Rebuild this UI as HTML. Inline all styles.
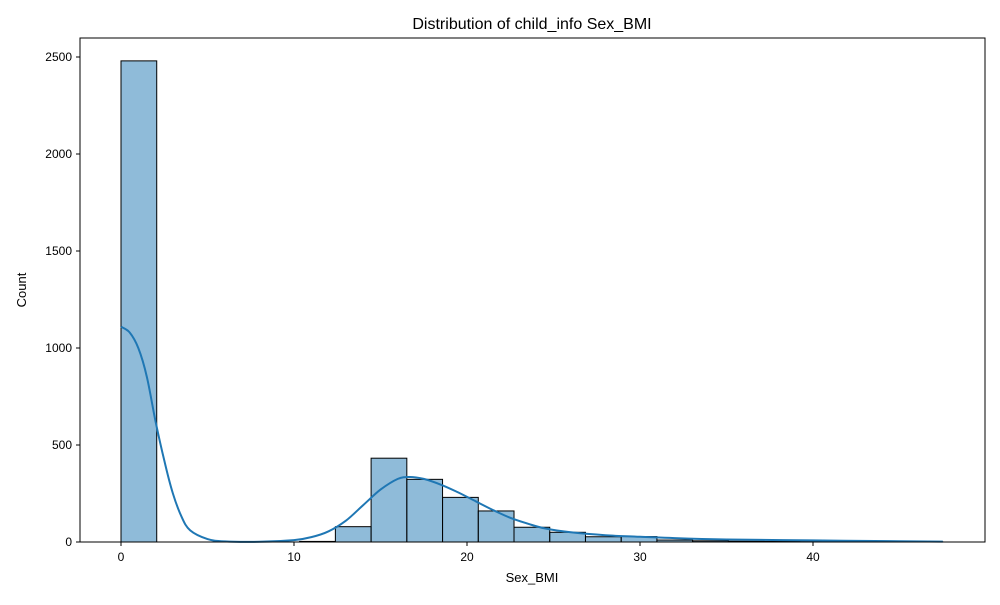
<!DOCTYPE html>
<html><head><meta charset="utf-8"><style>body{margin:0;background:#fff}svg{font-family:"Liberation Sans",sans-serif}</style></head>
<body>
<svg id="chart" width="1000" height="600">
<rect width="1000" height="600" fill="#fff"/>
<text x="532" y="29" font-size="16" text-anchor="middle">Distribution of child_info Sex_BMI</text>
<g id="bars"></g><g id="ticks"></g>
<path id="kde" fill="none" stroke="#1f77b4" stroke-width="2"/>
<rect x="80" y="38" width="905" height="504" fill="none" stroke="#000" stroke-width="1"/>
<text x="532" y="582" font-size="13" text-anchor="middle">Sex_BMI</text>
<text transform="translate(26,290) rotate(-90)" font-size="13" text-anchor="middle">Count</text>
</svg>
<script>
const binCounts=[2480,0,0,0,0,3,79,432,323,230,160,76,50,27,28,10,6,4,3,2,2,1,1];
const binStart=0, binEnd=47.5;
const xTicks=[0,10,20,30,40];
const yTicks=[0,500,1000,1500,2000,2500];
const kdeX=[0,0.5,1,1.5,2,2.5,3,3.5,4,5,6,8,10,11,12,13,14,15,16,16.7,17.5,18.5,19.5,20.5,21.5,22.5,23.5,24.5,26,28,30,32,35,40,45,47.5];
const kdeY=[1110,1080,1000,850,620,420,250,130,60,15,3,1,10,25,55,110,190,270,325,335,325,295,255,210,165,125,95,70,50,35,27,20,13,8,4,2];
const NS="http://www.w3.org/2000/svg";
const sx=v=>121+v*17.3, sy=v=>542-v*0.194;
const bw=(binEnd-binStart)/binCounts.length;
const bars=document.getElementById('bars'), ticks=document.getElementById('ticks');
binCounts.forEach((c,i)=>{
  if(c<=0) return;
  const r=document.createElementNS(NS,'rect');
  const x0=sx(binStart+i*bw), x1=sx(binStart+(i+1)*bw);
  r.setAttribute('x',x0);r.setAttribute('width',x1-x0);
  r.setAttribute('y',sy(c));r.setAttribute('height',sy(0)-sy(c));
  r.setAttribute('fill','rgba(31,119,180,0.5)');r.setAttribute('stroke','#000');r.setAttribute('stroke-width','1');
  
  
  bars.appendChild(r);
});
xTicks.forEach(t=>{
  const l=document.createElementNS(NS,'line');
  l.setAttribute('x1',sx(t));l.setAttribute('x2',sx(t));l.setAttribute('y1',542);l.setAttribute('y2',546);l.setAttribute('stroke','#000');
  
  
  ticks.appendChild(l);
  const tx=document.createElementNS(NS,'text');
  tx.setAttribute('x',sx(t));tx.setAttribute('y',561);tx.setAttribute('font-size','12');tx.setAttribute('text-anchor','middle');
  tx.textContent=t;
  
  
  ticks.appendChild(tx);
});
yTicks.forEach(t=>{
  const l=document.createElementNS(NS,'line');
  l.setAttribute('x1',76);l.setAttribute('x2',80);l.setAttribute('y1',sy(t));l.setAttribute('y2',sy(t));l.setAttribute('stroke','#000');
  
  
  ticks.appendChild(l);
  const tx=document.createElementNS(NS,'text');
  tx.setAttribute('x',72);tx.setAttribute('y',sy(t)+4);tx.setAttribute('font-size','12');tx.setAttribute('text-anchor','end');
  tx.textContent=t;
  
  
  ticks.appendChild(tx);
});
// smooth Catmull-Rom path through the KDE points
const P=kdeX.map((x,i)=>[sx(x),sy(kdeY[i])]);
let d='M'+P[0][0].toFixed(1)+','+P[0][1].toFixed(1);
for(let i=0;i<P.length-1;i++){
  const p0=P[Math.max(i-1,0)],p1=P[i],p2=P[i+1],p3=P[Math.min(i+2,P.length-1)];
  const c1=[p1[0]+(p2[0]-p0[0])/6,p1[1]+(p2[1]-p0[1])/6];
  const c2=[p2[0]-(p3[0]-p1[0])/6,p2[1]-(p3[1]-p1[1])/6];
  d+='C'+c1.map(v=>v.toFixed(1)).join(',')+' '+c2.map(v=>v.toFixed(1)).join(',')+' '+p2.map(v=>v.toFixed(1)).join(',');
}
document.getElementById('kde').setAttribute('d',d);
</script>
</body></html>
